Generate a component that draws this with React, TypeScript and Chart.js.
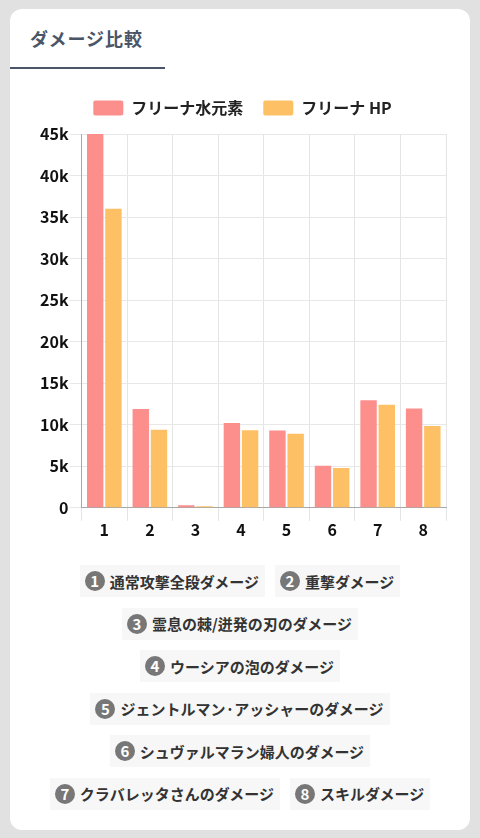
import React, { useEffect, useRef } from "react";
import { Chart, registerables } from "chart.js";

Chart.register(...registerables);

const categories = ["1", "2", "3", "4", "5", "6", "7", "8"];
const hydroValues = [45000, 11900, 300, 10200, 9300, 5050, 12950, 11950];
const hpValues = [36000, 9400, 200, 9350, 8900, 4800, 12400, 9850];
const seriesNames = ["フリーナ水元素", "フリーナ HP"];
const yTicks = [0, 5000, 10000, 15000, 20000, 25000, 30000, 35000, 40000, 45000];
const notes = [
  "通常攻撃全段ダメージ",
  "重撃ダメージ",
  "霊息の棘/迸発の刃のダメージ",
  "ウーシアの泡のダメージ",
  "ジェントルマン·アッシャーのダメージ",
  "シュヴァルマラン婦人のダメージ",
  "クラバレッタさんのダメージ",
  "スキルダメージ",
];
const titleText = "ダメージ比較";

const FONT = '"Noto Sans CJK JP", "Noto Sans", sans-serif';

const legendGap = {
  id: "legendGap",
  beforeInit(chart: any) {
    const fit = chart.legend.fit;
    chart.legend.fit = function () {
      fit.call(this);
      this.height += 8;
    };
  },
};

export default function App() {
  const ref = useRef<HTMLCanvasElement>(null);
  useEffect(() => {
    const chart = new Chart(ref.current!, {
      type: "bar",
      plugins: [legendGap],
      data: {
        labels: categories,
        datasets: [
          { label: seriesNames[0], data: hydroValues, backgroundColor: "#fc8f8b", borderRadius: 0 },
          { label: seriesNames[1], data: hpValues, backgroundColor: "#fec064", borderRadius: 0 },
        ],
      },
      options: {
        animation: false,
        responsive: false,
        layout: { padding: { right: 4, left: 9, top: 0, bottom: 0 } },
        plugins: {
          tooltip: { enabled: false },
          legend: {
            position: "top",
            labels: {
              boxWidth: 30,
              boxHeight: 15,
              color: "#222",
              padding: 20,
              font: { family: FONT, size: 16, weight: 700 },
              useBorderRadius: true,
              borderRadius: 2,
            },
          },
        },
        scales: {
          x: {
            grid: { color: "#e4e4e4", tickLength: 13 },
            border: { color: "#a8a8a8" },
            ticks: { color: "#111", padding: 0, font: { family: FONT, size: 16, weight: 700 } },
          },
          y: {
            min: 0,
            max: 45000,
            grid: { color: "#e8e8e8", tickLength: 12 },
            border: { color: "#a8a8a8" },
            afterBuildTicks: (axis) => {
              axis.ticks = yTicks.map((value) => ({ value }));
            },
            ticks: {
              color: "#111",
              padding: 1,
              font: { family: FONT, size: 16, weight: 700 },
              callback: (v) => (Number(v) === 0 ? "0" : Number(v) / 1000 + "k"),
            },
          },
        },
      },
    });
    return () => chart.destroy();
  }, []);

  return (
    <div style={{ position: "absolute", left: 0, top: 0, width: 480, height: 838, background: "#e1e1e1", overflow: "hidden", fontFamily: FONT }}>
      <div style={{ position: "absolute", left: 10, top: 9, width: 460, height: 821, background: "#fff", borderRadius: 12 }} />
      <div style={{ position: "absolute", left: 30, top: 25, fontSize: 18, lineHeight: "26px", fontWeight: 700, letterSpacing: 1, color: "#4a5568" }}>{titleText}</div>
      <div style={{ position: "absolute", left: 10, top: 67, width: 155, height: 2, background: "#4a5568" }} />
      <canvas ref={ref} width={420} height={460} style={{ position: "absolute", left: 30, top: 80, width: 420, height: 460 }} />
      <div style={{ position: "absolute", left: 20, top: 565, width: 440, display: "flex", flexWrap: "wrap", justifyContent: "center", columnGap: 10, rowGap: 10.6 }}>
        {notes.map((n, i) => (
          <div key={n} style={{ display: "flex", alignItems: "center", height: 32, padding: "0 6px 0 5px", background: "#f7f7f7", fontSize: 15, fontWeight: 700, color: "#333", whiteSpace: "nowrap" }}>
            <span style={{ width: 20, height: 20, borderRadius: 10, background: "#777", color: "#fff", fontSize: 15, fontWeight: 700, lineHeight: "20px", textAlign: "center", marginRight: 5 }}>{i + 1}</span>
            {n}
          </div>
        ))}
      </div>
    </div>
  );
}
